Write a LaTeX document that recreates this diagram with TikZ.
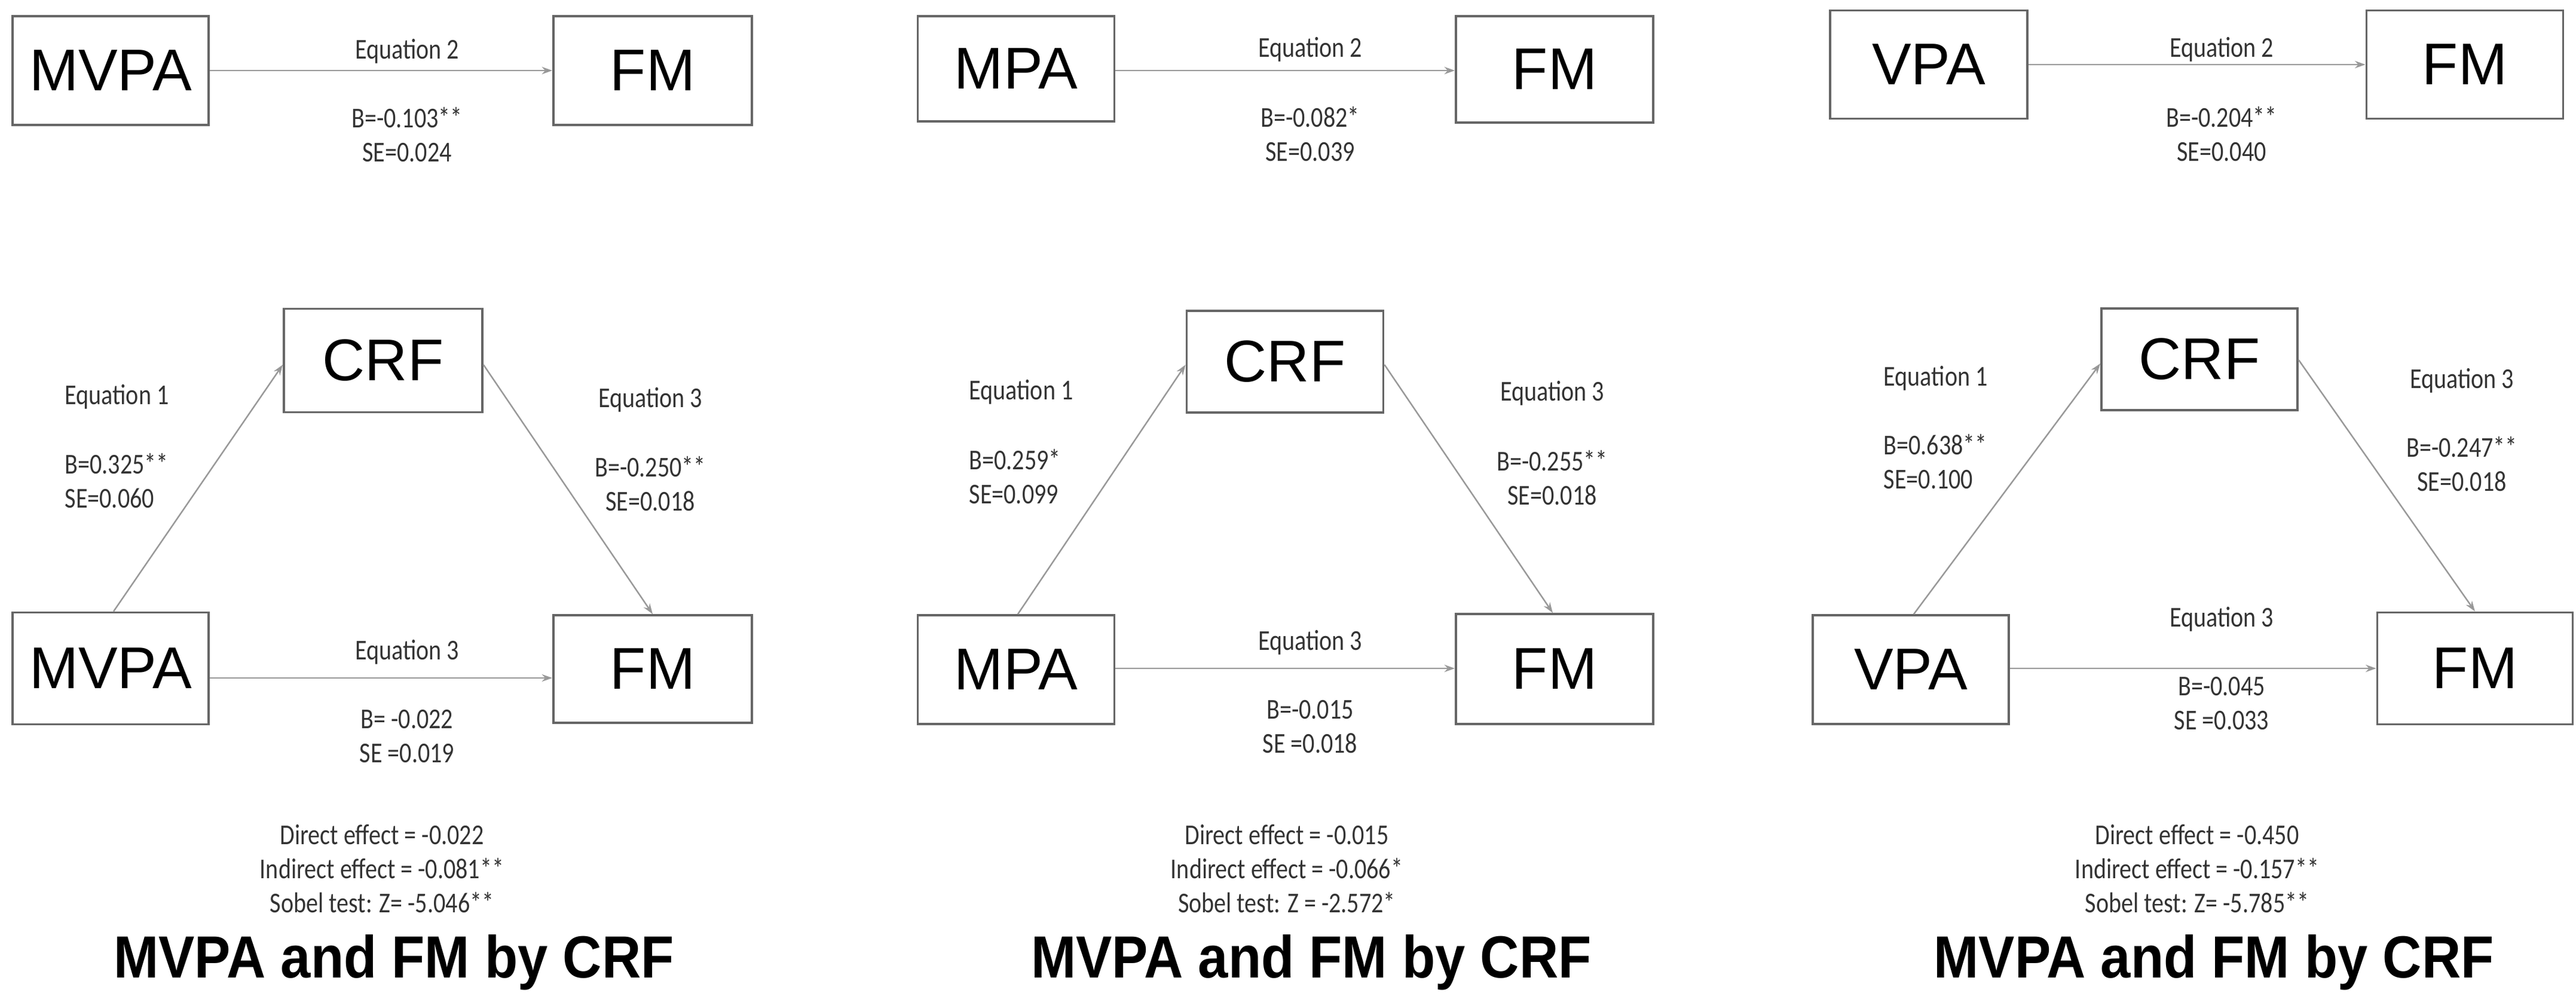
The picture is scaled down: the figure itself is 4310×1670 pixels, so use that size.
\documentclass[tikz,border=0pt]{standalone}
\usepackage{fontspec}
\setmainfont{Liberation Sans}
\newfontfamily\labfont{Carlito}
\usetikzlibrary{arrows.meta}
\begin{document}
\begin{tikzpicture}[x=0.01cm,y=-0.01cm,
  box/.style={draw=black!60,line width=1pt,inner sep=0pt,font=\fontsize{28}{32}\selectfont},
  lab/.style={inner sep=0pt,align=center,text=black!80,yscale=1.2,transform shape,font=\labfont\fontsize{11.4}{13.5}\selectfont},
  labl/.style={lab,align=left,anchor=west},
  ttl/.style={inner sep=0pt,yscale=1.1,transform shape,font=\fontsize{25.7}{30}\selectfont\bfseries},
  arr/.style={draw=black!40,line width=0.7pt,-{Stealth[length=5pt,width=3.5pt,fill=black]}}]
\useasboundingbox (0,0) rectangle (4310,1670);
% ---------- panel 1 ----------
\node[box,minimum width=3.28cm,minimum height=1.82cm] (a1) at (185,118) {MVPA};
\node[box,minimum width=3.32cm,minimum height=1.82cm] (b1) at (1092,118) {FM};
\draw[arr] (a1) -- (b1);
\node[lab] (e21) at (681,86) {Equation 2};
\node[lab] (s21) at (681,225) {B=-0.103**\\SE=0.024};
\node[box,minimum width=3.32cm,minimum height=1.73cm] (c1) at (641,603) {CRF};
\node[box,minimum width=3.28cm,minimum height=1.87cm] (x1) at (185,1118) {MVPA};
\node[box,minimum width=3.32cm,minimum height=1.80cm] (y1) at (1092,1119) {FM};
\draw[arr] (x1.north -| 190,0) -- (c1.west |- 0,610);
\draw[arr] (c1.east |- 0,610) -- (y1.north -| 1092,0);
\draw[arr] (x1.east |- 0,1134) -- (y1.west |- 0,1134);
\node[labl] (e11) at (108,664) {Equation 1};
\node[labl] (s11) at (108,804) {B=0.325**\\SE=0.060};
\node[lab] (e31) at (1088,669) {Equation 3};
\node[lab] (s31) at (1088,809) {B=-0.250**\\SE=0.018};
\node[lab] (e3b1) at (681,1091) {Equation 3};
\node[lab] (s3b1) at (681,1232) {B= -0.022\\SE =0.019};
\node[lab] (d1) at (639,1453) {Direct effect = -0.022\\Indirect effect = -0.081**\\Sobel test: Z= -5.046**};
\node[ttl] (t1) at (659,1610) {MVPA and FM by CRF};
% ---------- panel 2 ----------
\node[box,minimum width=3.29cm,minimum height=1.76cm] (a2) at (1700,115) {MPA};
\node[box,minimum width=3.30cm,minimum height=1.78cm] (b2) at (2601,116) {FM};
\draw[arr] (a2.east |- 0,118) -- (b2.west |- 0,118);
\node[lab] (e22) at (2192,83) {Equation 2};
\node[lab] (s22) at (2192,224) {B=-0.082*\\SE=0.039};
\node[box,minimum width=3.29cm,minimum height=1.70cm] (c2) at (2150,605) {CRF};
\node[box,minimum width=3.29cm,minimum height=1.82cm] (x2) at (1700,1120) {MPA};
\node[box,minimum width=3.30cm,minimum height=1.84cm] (y2) at (2601,1119) {FM};
\draw[arr] (x2.north -| 1703,0) -- (c2.west |- 0,610);
\draw[arr] (c2.east |- 0,610) -- (y2.north -| 2598,0);
\draw[arr] (x2.east |- 0,1118) -- (y2.west |- 0,1118);
\node[labl] (e12) at (1621,656) {Equation 1};
\node[labl] (s12) at (1621,797) {B=0.259*\\SE=0.099};
\node[lab] (e32) at (2597,658) {Equation 3};
\node[lab] (s32) at (2597,799) {B=-0.255**\\SE=0.018};
\node[lab] (e3b2) at (2192,1075) {Equation 3};
\node[lab] (s3b2) at (2192,1216) {B=-0.015\\SE =0.018};
\node[lab] (d2) at (2153,1453) {Direct effect = -0.015\\Indirect effect = -0.066*\\Sobel test: Z = -2.572*};
\node[ttl] (t2) at (2194,1610) {MVPA and FM by CRF};
% ---------- panel 3 ----------
\node[box,minimum width=3.30cm,minimum height=1.81cm] (a3) at (3227,108) {VPA};
\node[box,minimum width=3.29cm,minimum height=1.81cm] (b3) at (4124,108) {FM};
\draw[arr] (a3) -- (b3);
\node[lab] (e23) at (3717,83) {Equation 2};
\node[lab] (s23) at (3717,224) {B=-0.204**\\SE=0.040};
\node[box,minimum width=3.28cm,minimum height=1.70cm] (c3) at (3680,601) {CRF};
\node[box,minimum width=3.28cm,minimum height=1.82cm] (x3) at (3197,1120) {VPA};
\node[box,minimum width=3.27cm,minimum height=1.87cm] (y3) at (4141,1118) {FM};
\draw[arr] (x3.north -| 3202,0) -- (c3.west |- 0,608);
\draw[arr] (c3.east |- 0,602) -- (y3.north -| 4141,0);
\draw[arr] (x3.east |- 0,1118) -- (y3.west |- 0,1118);
\node[labl] (e13) at (3151,633) {Equation 1};
\node[labl] (s13) at (3151,772) {B=0.638**\\SE=0.100};
\node[lab] (e33) at (4119,637) {Equation 3};
\node[lab] (s33) at (4119,776) {B=-0.247**\\SE=0.018};
\node[lab] (e3b3) at (3717,1036) {Equation 3};
\node[lab] (s3b3) at (3717,1177) {B=-0.045\\SE =0.033};
\node[lab] (d3) at (3676,1453) {Direct effect = -0.450\\Indirect effect = -0.157**\\Sobel test: Z= -5.785**};
\node[ttl] (t3) at (3704,1610) {MVPA and FM by CRF};
\end{tikzpicture}
\end{document}
